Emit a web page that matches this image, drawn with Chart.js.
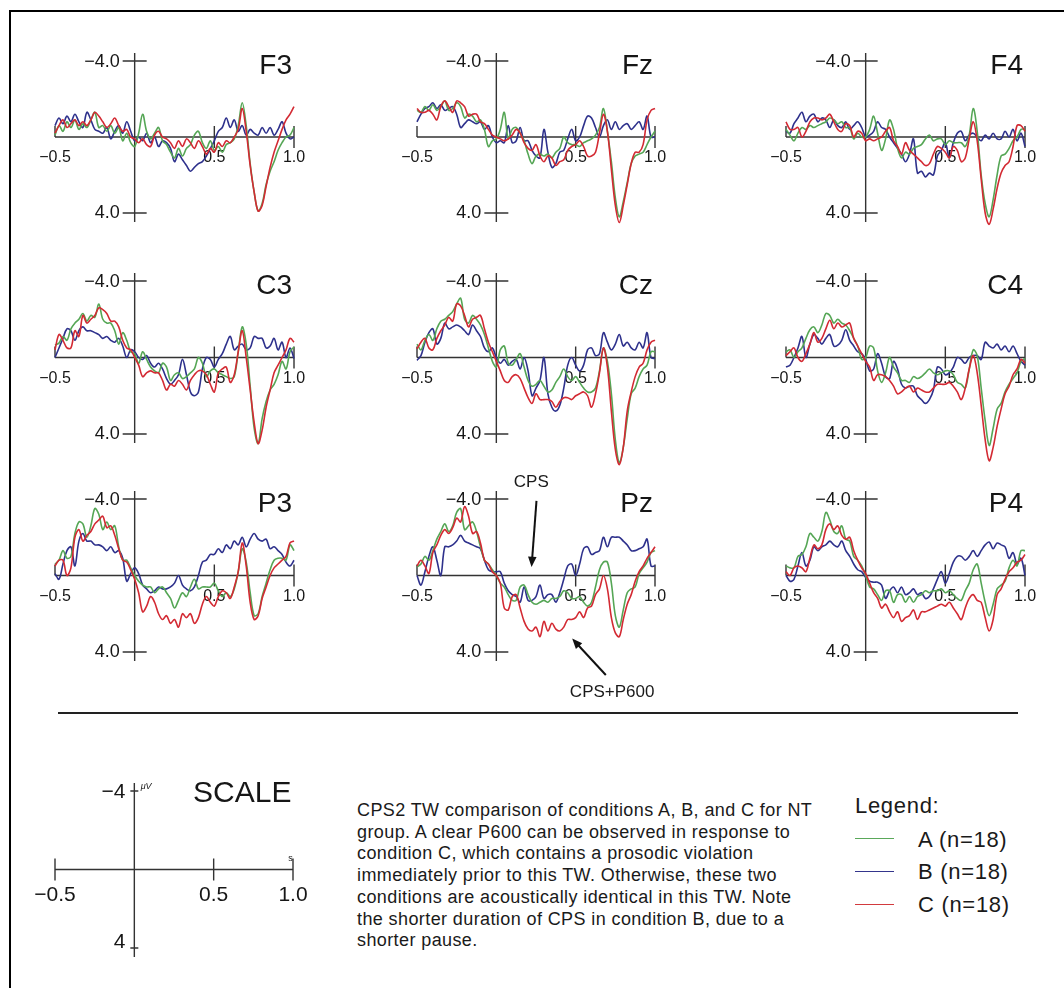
<!DOCTYPE html>
<html>
<head>
<meta charset="utf-8">
<script src="https://cdn.jsdelivr.net/npm/chart.js@4.4.1/dist/chart.umd.min.js"></script>
<style>
  body { margin:0; background:#fff; width:1064px; height:988px; overflow:hidden; position:relative;
         font-family:'Liberation Sans', Arial, Helvetica, sans-serif; color:#1a1a1a; }
  canvas { position:absolute; }
  #frame { position:absolute; left:9px; top:10px; width:1200px; height:1200px;
           border-left:2px solid #000; border-top:2px solid #000; }
  #rule { position:absolute; left:58px; top:712px; width:960px; height:2px; background:#222; }
  #caption { position:absolute; left:357px; top:800px; font-size:18px; letter-spacing:0.4px; line-height:21.7px; white-space:nowrap; }
  .lg { position:absolute; font-size:22px; letter-spacing:0.7px; line-height:26px; white-space:nowrap; }
  .swatch { position:absolute; left:855px; width:39px; height:0; border-top:1.5px solid; }
</style>
</head>
<body>
<div id="frame"></div>
<div id="rule"></div>
<div id="caption">CPS2 TW comparison of conditions A, B, and C for NT<br>group. A clear P600 can be observed in response to<br>condition C, which contains a prosodic violation<br>immediately prior to this TW. Otherwise, these two<br>conditions are acoustically identical in this TW. Note<br>the shorter duration of CPS in condition B, due to a<br>shorter pause.</div>
<div class="lg" style="left:855px;top:793px;">Legend:</div>
<div class="swatch" style="top:838px;border-color:#5aa85a;"></div>
<div class="swatch" style="top:871px;border-color:#34358c;"></div>
<div class="swatch" style="top:904px;border-color:#d23a3e;"></div>
<div class="lg" style="left:918px;top:827px;">A (n=18)</div>
<div class="lg" style="left:918px;top:859px;">B (n=18)</div>
<div class="lg" style="left:918px;top:892px;">C (n=18)</div>

<script>
// time points (s)
const times = [-0.5,-0.475,-0.45,-0.425,-0.4,-0.375,-0.35,-0.325,-0.3,-0.275,
  -0.25,-0.225,-0.2,-0.175,-0.15,-0.125,-0.1,-0.075,-0.05,-0.025,
  0,0.025,0.05,0.075,0.1,0.125,0.15,0.175,0.2,0.225,
  0.25,0.275,0.3,0.325,0.35,0.375,0.4,0.425,0.45,0.475,
  0.5,0.525,0.55,0.575,0.6,0.625,0.65,0.675,0.7,0.725,
  0.75,0.775,0.8,0.825,0.85,0.875,0.9,0.925,0.95,0.975,
  1.0];

// amplitudes in microvolts, condition A (green), B (blue), C (red)
const f3A = [-0.1,-0.6,-0.3,-0.8,-0.5,-0.9,-0.4,-0.7,-0.5,-0.9,
  -1.3,-0.5,-0.6,-0.3,-0.6,-0.2,-0.5,0.2,-0.2,0.3,
  0.5,-0.2,-1.2,-0.3,0.1,-0.2,-0.5,0.2,0.4,0.8,
  1.1,0.6,1.0,0.6,0.4,-0.1,-0.3,0.3,0.6,0.2,
  0.7,0.5,0.8,0.4,0.3,0.1,-0.6,-1.8,-0.6,1.4,
  2.9,3.9,3.5,2.5,1.8,1.3,0.7,0.3,0.0,-0.1,
  -0.5];
const f3B = [-0.6,-1.0,-0.7,-1.1,-0.8,-1.2,-0.8,-0.5,-1.3,-0.9,
  -0.4,-0.3,-0.2,-0.5,0.1,-0.3,-0.6,-0.2,-0.8,-0.3,
  0.2,0.0,0.2,-0.2,0.3,0.0,0.5,0.2,0.3,0.6,
  1.3,0.9,1.2,1.5,1.8,1.6,1.4,1.3,1.0,0.6,
  0.2,-0.3,-0.5,-1.0,-0.5,-0.9,-0.3,-0.6,-0.1,-0.4,
  -0.2,-0.1,-0.5,-0.2,-0.5,-0.1,-0.4,-0.8,-0.2,0.1,
  0.0];
const f3C = [-0.2,-0.6,-0.9,-0.5,-0.7,-0.9,-0.6,-0.8,-0.6,-0.9,
  -1.3,-1.1,-0.8,-0.5,-0.7,-1.0,-0.6,-0.3,-0.4,0.0,
  0.1,0.3,0.1,0.4,0.5,-0.1,-0.3,0.0,0.1,0.3,
  0.6,0.2,0.5,0.1,0.3,0.6,0.2,0.5,0.9,0.6,
  0.8,0.3,0.5,0.2,0.3,0.0,-0.4,-1.5,-0.3,1.5,
  2.9,3.9,3.6,2.6,1.6,0.8,0.2,-0.4,-0.9,-1.2,
  -1.6];

const fzA = [-1.4,-1.3,-1.6,-1.4,-1.7,-1.4,-1.6,-1.9,-1.4,-1.5,
  -1.8,-1.6,-1.0,-1.2,-1.1,-0.8,-0.9,-0.4,0.5,0.2,
  0.1,-0.4,-1.3,0.1,-0.4,-0.5,-0.2,0.2,0.9,1.4,
  1.0,0.9,1.0,0.9,1.1,0.8,0.6,0.0,0.3,0.4,
  0.4,0.5,0.3,0.2,0.1,-0.1,-0.5,-1.5,-0.3,1.3,
  3.2,4.2,3.4,2.4,1.4,1.0,0.9,0.8,0.4,0.0,
  -0.3];
const fzB = [-0.8,-1.2,-1.5,-1.6,-1.8,-1.5,-1.7,-1.4,-1.5,-1.6,
  -1.2,-0.5,-0.7,-0.9,-0.8,-0.7,-0.8,-0.4,-0.6,0.0,
  0.3,0.2,0.3,-0.6,0.3,0.2,-0.5,0.2,0.2,0.7,
  1.0,1.1,-0.4,0.8,1.6,1.4,0.8,0.7,0.1,-0.4,
  0.2,0.0,-0.6,-1.1,-1.0,-0.5,0.0,-0.6,-0.9,-0.4,
  -0.8,-0.4,-0.6,-0.7,-0.4,-0.6,-0.8,-0.4,-1.1,0.0,
  0.0];
const fzC = [-1.5,-1.3,-1.3,-1.4,-1.2,-0.9,-1.6,-1.9,-1.6,-1.3,
  -1.9,-1.8,-1.6,-1.1,-1.2,-1.2,-0.8,-0.7,-0.4,-0.1,
  0.0,0.1,0.2,0.1,-0.1,-0.4,-0.2,0.3,0.6,0.7,
  0.4,1.0,1.3,1.0,1.1,1.5,1.3,1.2,0.7,0.5,
  0.4,0.2,0.5,1.0,1.0,0.8,-0.2,-1.2,-0.3,1.7,
  3.6,4.5,3.6,2.5,1.4,0.8,0.8,0.4,-0.9,-1.4,
  -1.5];

const f4A = [-0.4,-0.1,0.2,-0.2,-0.5,-0.4,-0.6,-0.5,-0.6,-0.7,
  -0.8,-1.0,-0.9,-0.7,-0.8,-0.5,-0.5,0.1,-0.2,0.0,
  0.0,-0.4,-1.1,-0.2,0.7,0.1,-0.9,-0.4,0.6,1.1,
  0.8,0.9,0.6,0.5,0.4,0.1,-0.1,0.2,0.1,0.1,
  0.4,0.2,0.3,0.3,0.3,0.5,-0.1,-1.5,-0.3,2.0,
  3.5,4.2,3.3,2.0,1.0,0.9,0.6,0.2,0.0,-0.4,
  -0.4];
const f4B = [-0.3,-0.2,-0.7,-1.0,-1.3,-0.8,-1.1,-1.2,-0.8,-1.0,
  -0.9,-0.5,-0.9,-0.6,-0.5,-0.8,-0.4,-0.6,-0.8,-0.5,
  0.0,-0.1,-0.3,-0.8,-0.5,-0.4,0.0,0.3,0.6,0.9,
  1.3,0.9,0.1,1.9,1.8,2.1,1.9,2.0,1.0,0.7,
  0.3,1.1,0.3,-0.2,-0.3,0.2,-0.1,-0.2,0.0,0.2,
  -0.1,0.1,-0.2,0.1,0.1,-0.3,0.0,-0.4,0.2,-0.2,
  0.5];
const f4C = [-0.8,-0.4,-0.4,-0.5,0.0,-0.3,-0.8,-1.0,-1.0,-0.9,
  -1.0,-1.2,-0.8,-0.4,-0.3,-0.7,-0.6,0.0,-0.3,-0.2,
  0.2,0.1,0.2,0.1,0.0,-0.3,-0.5,0.2,0.5,0.9,
  0.3,0.7,0.9,1.1,1.3,1.5,1.4,0.9,0.5,0.6,
  0.8,1.1,0.5,0.7,1.3,1.1,0.1,-0.8,0.2,2.2,
  4.0,4.6,3.8,2.7,1.9,1.5,1.3,0.5,-0.6,-0.6,
  -0.3];

const c3A = [-0.65,-0.75,-1.1,-0.9,-1.5,-1.8,-2.0,-2.3,-1.9,-2.2,
  -2.1,-2.8,-2.0,-1.8,-1.8,-1.4,-0.7,-1.3,-0.9,-0.3,
  -0.2,0.3,-0.3,0.1,0.5,0.7,0.8,0.3,0.5,1.2,
  0.9,0.8,1.1,1.0,0.8,0.6,0.0,0.3,1.0,0.7,
  0.6,0.8,0.9,1.0,1.1,1.0,-0.3,-1.6,-0.7,1.5,
  3.7,4.5,3.2,2.3,1.7,1.4,0.9,0.2,0.6,-0.3,
  -0.55];
const c3B = [0.0,-0.5,-1.0,-1.5,-1.4,-0.9,-1.4,-1.6,-1.4,-1.4,
  -1.3,-1.2,-1.0,-1.1,-0.9,-0.8,-1.0,-0.6,0.0,-0.4,
  -0.3,0.0,0.1,-0.1,0.3,0.5,0.3,0.6,1.1,1.4,
  1.2,0.9,0.1,0.9,1.8,2.0,1.8,0.6,0.0,0.1,
  0.5,0.1,-0.2,-0.7,-1.1,-0.4,-0.6,-0.7,-0.4,-0.5,
  -1.1,-1.0,-1.0,-0.5,-0.6,-1.0,-0.4,-0.8,0.0,-0.5,
  0.05];
const c3C = [-0.4,-1.2,-0.9,-0.5,-0.5,-1.4,-1.1,-2.2,-1.8,-2.0,
  -2.2,-2.6,-2.5,-2.3,-1.9,-1.9,-1.6,-0.9,-0.5,-0.4,
  0.0,0.4,1.0,0.8,0.7,0.8,0.8,1.2,1.7,1.4,
  1.5,1.2,1.4,1.7,1.2,0.9,0.7,0.7,0.9,1.4,
  1.8,0.8,0.6,0.5,1.3,0.9,-0.3,-1.4,0.0,1.7,
  3.4,4.5,3.8,2.6,1.7,0.8,0.4,0.0,-0.4,-1.0,
  -0.8];

const czA = [-0.7,-0.4,-0.9,-1.2,-0.9,-1.5,-1.9,-2.0,-2.2,-2.4,
  -2.8,-3.1,-2.0,-1.8,-2.2,-2.0,-1.7,-1.2,-0.5,0.2,
  0.5,-0.4,-0.6,0.3,0.4,0.1,-0.2,0.5,1.2,1.5,
  1.4,1.2,1.5,1.8,1.7,1.3,1.0,0.6,1.0,1.2,
  1.0,1.3,1.6,1.8,1.8,1.6,0.7,-0.5,0.2,1.9,
  4.3,5.5,4.7,3.2,1.9,1.6,1.0,0.6,0.4,-0.3,
  -0.3];
const czB = [0.15,-0.1,-0.8,-1.3,-1.5,-0.7,-1.0,-1.8,-1.5,-1.6,
  -1.7,-1.6,-1.4,-1.2,-1.7,-1.4,-1.1,-0.5,-0.3,-0.5,
  0.0,0.3,0.1,0.4,0.2,0.1,0.6,0.0,0.7,2.0,
  1.6,1.2,0.0,1.9,2.6,2.8,2.5,1.6,0.4,0.0,
  0.4,0.7,0.4,-0.4,-0.5,-0.1,-0.2,-1.3,-0.8,-0.4,
  -0.7,-1.2,-0.6,-0.8,-0.5,-0.4,-0.8,-0.5,-1.3,0.0,
  0.05];
const czC = [-0.45,-0.8,-1.0,-0.5,-0.4,-1.0,-1.4,-1.7,-2.1,-1.9,
  -2.8,-2.7,-2.2,-1.6,-2.0,-2.1,-2.2,-1.5,-0.8,-0.3,
  0.2,0.7,1.2,1.3,1.0,0.9,1.1,1.6,2.1,2.4,
  1.9,2.2,2.2,2.2,2.3,2.6,2.3,2.1,2.1,2.2,
  2.0,1.9,1.8,2.0,2.6,1.9,0.8,-0.5,0.5,2.8,
  4.8,5.6,4.7,2.8,1.8,1.0,0.5,0.3,-0.4,-0.8,
  -0.9];

const c4A = [-0.3,-0.4,0.0,-0.3,-0.5,-1.0,-1.45,-1.6,-1.3,-1.7,
  -2.3,-2.2,-1.8,-2.0,-1.8,-1.7,-1.4,-1.0,-0.6,0.1,
  0.0,-0.6,-0.5,0.7,1.3,0.8,0.0,0.5,0.8,1.2,
  1.2,1.3,1.0,1.1,1.0,0.8,0.6,0.8,0.9,0.8,
  0.7,0.7,0.9,1.3,1.4,1.6,0.6,-0.4,-0.1,1.6,
  3.3,4.6,3.7,2.7,2.4,1.8,1.4,1.1,0.8,0.2,
  0.05];
const c4B = [0.5,0.4,0.0,-0.5,-1.1,0.0,-0.7,-1.2,-1.0,-0.7,
  -1.0,-1.2,-0.6,-0.65,-0.9,-1.45,-0.9,-0.6,-0.3,-0.2,
  0.1,0.7,0.6,-0.2,0.3,1.0,1.1,0.2,0.6,1.4,
  1.6,1.5,1.5,2.0,2.2,2.4,2.2,1.7,0.5,0.6,
  0.9,0.8,0.5,0.0,0.1,0.3,0.0,-0.1,-0.1,0.1,
  -0.8,-0.6,-0.5,-0.7,-0.4,-0.6,-0.3,-0.6,-0.2,0.2,
  0.4];
const c4C = [-0.1,-0.3,-0.5,0.0,0.2,-0.2,-0.7,-1.3,-0.8,-1.0,
  -1.5,-1.95,-1.5,-1.8,-1.6,-1.7,-1.8,-1.0,-0.6,-0.2,
  0.2,0.5,1.2,0.9,0.9,1.0,1.2,1.5,1.9,1.8,
  1.6,1.5,1.8,1.6,1.7,1.8,1.8,1.6,1.4,1.4,
  1.4,1.3,1.5,1.8,2.2,1.6,0.6,-0.1,0.8,2.5,
  4.3,5.4,4.7,3.6,2.7,1.9,1.5,0.9,0.6,0.1,
  0.3];

const p3A = [-0.6,-0.8,-1.3,-0.9,-1.0,-2.2,-2.8,-2.7,-2.0,-2.6,
  -3.5,-3.2,-2.4,-2.8,-2.4,-2.6,-1.5,-0.8,-0.8,-0.4,
  0.0,0.3,0.5,0.6,0.6,0.9,0.7,0.6,0.9,1.2,
  1.7,1.3,0.9,1.1,0.6,0.2,0.7,0.6,0.6,0.6,
  0.4,0.8,1.1,0.9,1.1,0.7,-0.2,-1.4,-0.7,0.9,
  2.1,2.0,1.1,0.4,-0.3,-0.8,-0.9,-0.9,-0.8,-1.6,
  -1.3];
const p3B = [-0.1,0.2,-0.6,-1.3,-1.5,-0.5,-1.8,-2.2,-1.8,-1.8,
  -1.6,-1.6,-1.5,-1.3,-1.5,-1.2,-1.3,-0.9,0.3,-0.1,
  -0.4,-0.1,0.5,0.7,0.9,0.8,0.6,0.7,0.7,0.6,
  0.4,0.0,0.5,0.7,0.8,0.6,0.0,-0.7,-0.8,-1.1,
  -1.1,-1.4,-1.2,-1.6,-1.4,-1.8,-1.6,-2.0,-1.5,-1.9,
  -2.2,-1.9,-1.8,-1.9,-1.4,-1.5,-1.3,-1.1,-0.7,-0.5,
  -0.8];
const p3C = [-0.5,-0.8,-0.8,0.0,-0.4,-2.0,-2.4,-1.8,-2.1,-2.3,
  -2.7,-2.9,-3.1,-2.5,-2.6,-2.1,-1.4,-0.8,-0.7,-0.3,
  0.2,0.9,1.9,1.6,1.1,1.4,2.0,2.3,2.1,2.5,
  2.3,2.7,2.0,2.2,2.0,2.5,2.2,1.5,1.1,1.4,
  1.6,1.1,0.8,0.9,1.2,0.6,-0.2,-1.7,-0.5,1.4,
  2.3,2.1,1.2,0.6,0.0,-0.4,-0.6,-0.8,-1.0,-1.7,
  -1.8];

const pzA = [-0.45,-0.6,-1.0,-0.8,-1.3,-1.9,-2.3,-2.7,-2.3,-2.6,
  -3.3,-3.5,-2.4,-2.6,-2.8,-2.3,-1.5,-0.8,-0.6,-0.3,
  0.0,0.4,0.6,1.0,1.3,1.3,0.6,0.5,1.0,1.4,
  1.5,1.4,1.3,1.4,1.2,1.2,1.1,0.8,0.9,1.2,
  1.2,1.1,1.4,1.6,1.4,0.6,-0.3,-0.7,-0.7,0.4,
  2.1,2.7,1.8,0.9,0.7,0.6,-0.1,-0.4,-0.7,-1.2,
  -1.3];
const pzB = [0.0,0.5,-0.2,-1.0,-1.5,-0.8,0.0,-1.5,-1.5,-1.6,
  -1.8,-2.1,-1.8,-1.7,-1.6,-1.5,-1.4,-0.8,-0.3,-0.2,
  -0.2,-0.2,0.4,0.8,1.0,1.1,1.4,0.6,1.3,1.3,
  1.1,0.5,1.2,1.0,1.0,1.4,0.9,0.2,-0.5,-0.6,
  0.0,-0.6,-1.4,-1.5,-1.1,-1.2,-1.3,-2.0,-1.5,-2.0,
  -2.0,-2.0,-1.8,-1.6,-1.3,-1.3,-1.4,-1.5,-1.9,-0.5,
  -0.5];
const pzC = [-0.5,-0.8,-0.5,-0.1,-1.2,-1.6,-2.1,-2.4,-2.2,-2.5,
  -3.0,-2.8,-3.6,-3.1,-2.2,-2.3,-1.7,-0.8,-0.6,-0.2,
  0.0,0.4,1.7,1.8,1.1,1.0,1.7,2.4,2.8,2.9,
  2.7,3.2,2.4,2.9,2.5,2.8,2.9,2.7,2.3,2.3,
  2.2,1.9,2.2,1.7,1.6,1.0,0.7,0.0,0.7,2.2,
  3.0,3.2,2.3,1.5,1.0,0.3,-0.2,-0.5,-0.9,-1.2,
  -1.5];

const p4A = [-0.5,-0.4,-0.4,-1.0,-1.1,-1.5,-2.2,-2.0,-1.8,-2.3,
  -3.3,-2.9,-2.3,-2.2,-2.6,-1.9,-1.8,-1.0,-0.8,-0.5,
  0.0,0.6,0.7,1.0,1.3,0.8,0.8,1.4,1.0,1.0,
  1.4,1.1,1.4,1.1,1.0,0.8,0.9,0.8,0.8,0.7,
  0.9,0.8,1.0,1.2,1.3,0.8,0.4,-0.3,-0.6,0.4,
  1.4,2.1,1.5,0.7,0.5,0.3,-0.4,-0.8,-0.5,-1.3,
  -1.3];
const p4B = [0.0,0.3,0.2,-0.5,-1.2,-0.5,-0.8,-1.5,-1.3,-1.5,
  -1.6,-1.8,-1.6,-1.5,-1.8,-1.3,-1.0,-0.6,-0.3,-0.2,
  0.1,0.3,0.35,0.35,0.5,1.2,0.8,0.6,0.9,0.6,
  1.0,0.9,0.7,1.0,0.9,1.2,1.1,0.7,0.2,-0.2,
  0.4,-0.1,-0.7,-1.0,-1.0,-0.8,-1.0,-1.3,-1.0,-1.3,
  -1.6,-1.75,-1.4,-1.7,-1.6,-1.5,-0.9,-1.2,-0.6,-0.9,
  0.0];
const p4C = [-0.2,0.0,-0.4,-0.5,-0.4,-0.2,-0.9,-1.6,-1.4,-1.6,
  -2.4,-2.7,-2.4,-2.6,-2.1,-1.9,-2.0,-1.3,-0.8,-0.4,
  -0.1,0.4,0.9,1.2,1.7,1.5,1.9,2.2,1.9,2.4,
  2.2,2.1,1.8,2.3,1.9,1.9,1.8,1.7,1.6,1.5,
  1.6,1.4,1.7,2.0,2.3,1.7,1.2,1.0,1.3,1.4,
  2.2,2.9,2.3,1.0,0.7,0.2,-0.2,-0.4,-0.7,-0.8,
  -1.1];

// axis ticks and labels
const xTicks = [-0.5, 0.5, 1.0];
const xTickLabels = ['\u22120.5', '0.5', '1.0'];
const yTicks = [-4, 4];
const yTickLabels = ['\u22124.0', '4.0'];
const scaleYLabels = ['\u22124', '4'];

const colors = { A: '#55a655', B: '#2e318c', C: '#d32a33' };

// pixel layout of the 3x3 grid: x of -0.5 / 1.0 and y of -4 / +4
const colLeft = [55, 417, 786], colRight = [294, 655, 1025];
const rowTop = [61, 281, 499], rowBottom = [213, 434, 652];

// arrows + text on Pz, in data units (s, uV)
const pzNotes = [
  { text: 'CPS', tx: 0.22, ty: -4.85, from: [0.253, -3.9], to: [0.222, -0.45] },
  { text: 'CPS+P600', tx: 0.73, ty: 6.1, from: [0.69, 5.2], to: [0.478, 3.3] }
];

const FONT = '"Liberation Sans", Arial, sans-serif';

const erpAxes = {
  id: 'erpAxes',
  beforeDatasetsDraw(chart, args, o) {
    const ctx = chart.ctx, xs = chart.scales.x, ys = chart.scales.y;
    const x0 = xs.getPixelForValue(0), y0 = ys.getPixelForValue(0);
    const xl = xs.getPixelForValue(xTicks[0]), xr = xs.getPixelForValue(xTicks[2]);
    const yt = ys.getPixelForValue(yTicks[0]), yb = ys.getPixelForValue(yTicks[1]);
    ctx.save();
    ctx.strokeStyle = '#333';
    ctx.lineWidth = 1.4;
    ctx.beginPath();
    ctx.moveTo(xl, y0); ctx.lineTo(xr, y0);
    ctx.moveTo(x0, yt - 8); ctx.lineTo(x0, yb + 9);
    yTicks.forEach(v => {
      const y = ys.getPixelForValue(v);
      ctx.moveTo(x0 - o.yTick, y); ctx.lineTo(x0 + o.yTick, y);
    });
    xTicks.forEach((v, i) => {
      const x = xs.getPixelForValue(v);
      ctx.moveTo(x, y0 - 11);
      ctx.lineTo(x, (i === 0 && o.halfFirst) ? y0 : y0 + 11);
    });
    ctx.stroke();

    ctx.fillStyle = '#161616';
    ctx.font = o.yFont;
    ctx.textAlign = 'right';
    ctx.textBaseline = 'middle';
    ctx.fillText(o.yLabels[0], x0 - o.yGap, yt + 1);
    ctx.fillText(o.yLabels[1], x0 - o.yGap, yb + o.yShift);
    ctx.font = o.xFont;
    ctx.textAlign = 'center';
    xTicks.forEach((v, i) => ctx.fillText(xTickLabels[i], xs.getPixelForValue(v), y0 + o.xDy));

    if (o.title) {
      ctx.font = '28px ' + FONT;
      ctx.textAlign = 'right';
      ctx.fillText(o.title, xr - 2, yt + 5);
    }
    (o.extras || []).forEach(e => {
      ctx.font = e.font;
      ctx.textAlign = e.align;
      ctx.fillText(e.text, xs.getPixelForValue(e.x), ys.getPixelForValue(e.y));
    });
    ctx.restore();
  },
  afterDatasetsDraw(chart, args, o) {
    const ctx = chart.ctx, xs = chart.scales.x, ys = chart.scales.y;
    ctx.save();
    ctx.strokeStyle = '#111';
    ctx.lineWidth = 2;
    ctx.font = '17px ' + FONT;
    ctx.textAlign = 'center';
    ctx.textBaseline = 'middle';
    (o.notes || []).forEach(n => {
      ctx.fillStyle = '#1a1a1a';
      ctx.fillText(n.text, xs.getPixelForValue(n.tx), ys.getPixelForValue(n.ty));
      const ax = xs.getPixelForValue(n.from[0]), ay = ys.getPixelForValue(n.from[1]);
      const bx = xs.getPixelForValue(n.to[0]), by = ys.getPixelForValue(n.to[1]);
      const ang = Math.atan2(by - ay, bx - ax);
      ctx.beginPath();
      ctx.moveTo(ax, ay);
      ctx.lineTo(bx - 8 * Math.cos(ang), by - 8 * Math.sin(ang));
      ctx.stroke();
      ctx.beginPath();
      ctx.moveTo(bx, by);
      ctx.lineTo(bx - 11 * Math.cos(ang - 0.4), by - 11 * Math.sin(ang - 0.4));
      ctx.lineTo(bx - 11 * Math.cos(ang + 0.4), by - 11 * Math.sin(ang + 0.4));
      ctx.closePath();
      ctx.fillStyle = '#111';
      ctx.fill();
    });
    ctx.restore();
  }
};

const pad = { left: 60, right: 25, top: 40, bottom: 70 };

function makeCanvas(l, r, t, b) {
  const cv = document.createElement('canvas');
  const w = r - l + pad.left + pad.right, h = b - t + pad.top + pad.bottom;
  cv.width = w; cv.height = h;
  cv.style.width = w + 'px'; cv.style.height = h + 'px';
  cv.style.left = (l - pad.left) + 'px';
  cv.style.top = (t - pad.top) + 'px';
  document.body.appendChild(cv);
  return cv;
}

function line(vals, color) {
  return {
    data: times.map((t, i) => ({ x: t, y: vals[i] })),
    borderColor: color, borderWidth: 1.6, pointRadius: 0,
    tension: 0.35, fill: false, clip: false
  };
}

function panel(name, col, row, A, B, C, notes) {
  const cv = makeCanvas(colLeft[col], colRight[col], rowTop[row], rowBottom[row]);
  new Chart(cv, {
    type: 'line',
    data: { datasets: [line(C, colors.C), line(A, colors.A), line(B, colors.B)] },
    options: {
      responsive: false, animation: false, devicePixelRatio: 1,
      layout: { padding: pad },
      events: [],
      plugins: {
        legend: { display: false }, tooltip: { enabled: false },
        erpAxes: {
          title: name, notes: notes || [], halfFirst: true, yTick: 12,
          yLabels: yTickLabels, yGap: 15, yShift: 0, xDy: 21,
          yFont: '18px ' + FONT,
          xFont: '16px ' + FONT
        }
      },
      scales: {
        x: { type: 'linear', min: -0.5, max: 1.0, display: false },
        y: { type: 'linear', min: -4, max: 4, reverse: true, display: false }
      }
    },
    plugins: [erpAxes]
  });
}

panel('F3', 0, 0, f3A, f3B, f3C);
panel('Fz', 1, 0, fzA, fzB, fzC);
panel('F4', 2, 0, f4A, f4B, f4C);
panel('C3', 0, 1, c3A, c3B, c3C);
panel('Cz', 1, 1, czA, czB, czC);
panel('C4', 2, 1, c4A, c4B, c4C);
panel('P3', 0, 2, p3A, p3B, p3C);
panel('Pz', 1, 2, pzA, pzB, pzC, pzNotes);
panel('P4', 2, 2, p4A, p4B, p4C);

// SCALE key
const scaleCv = makeCanvas(55, 293, 791, 948);
new Chart(scaleCv, {
  type: 'line',
  data: { datasets: [] },
  options: {
    responsive: false, animation: false, devicePixelRatio: 1,
    layout: { padding: pad },
    events: [],
    plugins: {
      legend: { display: false }, tooltip: { enabled: false },
      erpAxes: {
        title: null, halfFirst: false, yTick: 4,
        yLabels: scaleYLabels, yGap: 9, yShift: -6, xDy: 26,
        yFont: '21px ' + FONT,
        xFont: '21px ' + FONT,
        extras: [
          { text: 'SCALE', x: 0.37, y: -3.85, align: 'left', font: '30px ' + FONT },
          { text: '\u03bcV', x: 0.04, y: -4.25, align: 'left', font: 'italic 9px ' + FONT },
          { text: 's', x: 0.985, y: -0.55, align: 'center', font: '9px ' + FONT }
        ]
      }
    },
    scales: {
      x: { type: 'linear', min: -0.5, max: 1.0, display: false },
      y: { type: 'linear', min: -4, max: 4, reverse: true, display: false }
    }
  },
  plugins: [erpAxes]
});
</script>
</body>
</html>
